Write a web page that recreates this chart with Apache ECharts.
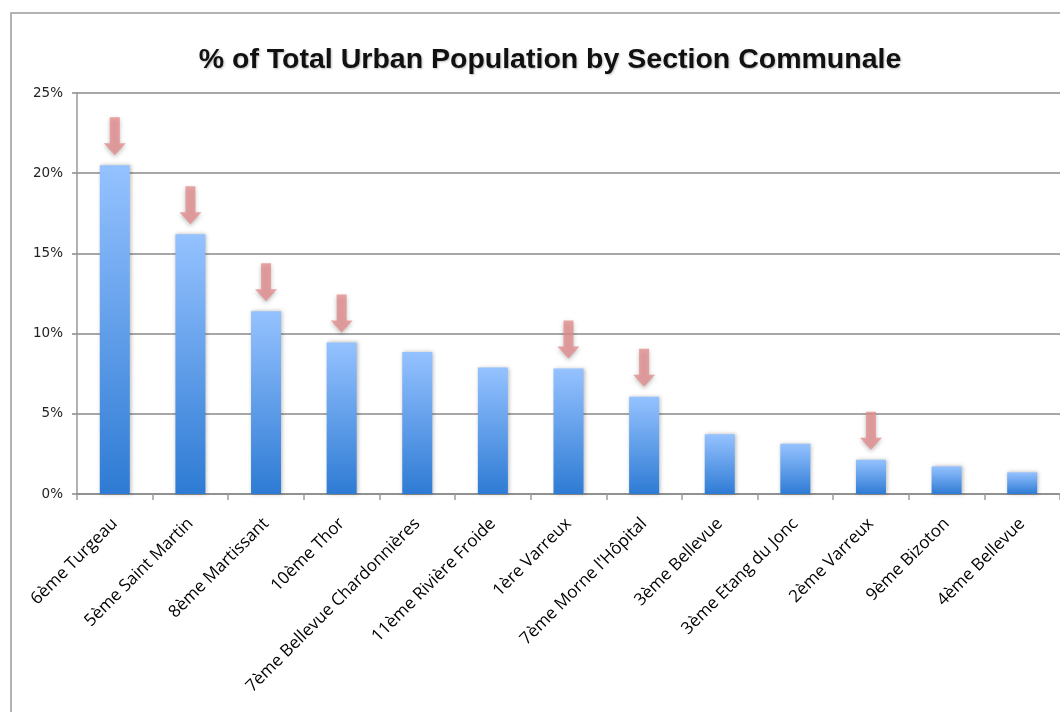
<!DOCTYPE html>
<html>
<head>
<meta charset="utf-8">
<title>% of Total Urban Population by Section Communale</title>
<script src="https://cdn.jsdelivr.net/npm/echarts@6/dist/echarts.min.js"></script>
<style>
  html, body { margin: 0; padding: 0; background: #fff; }
  #chart { width: 1060px; height: 712px; }
</style>
</head>
<body>
<div id="chart"></div>
<script>
// Sections communales, ordered by share of the urban population
const categories = [
  '6ème Turgeau',
  '5ème Saint Martin',
  '8ème Martissant',
  '10ème Thor',
  '7ème Bellevue Chardonnières',
  '11ème Rivière Froide',
  '1ère Varreux',
  "7ème Morne l'Hôpital",
  '3ème Bellevue',
  '3ème Etang du Jonc',
  '2ème Varreux',
  '9ème Bizoton',
  '4ème Bellevue'
];

// Share of total urban population (%)
const sharePct = [20.5, 16.2, 11.4, 9.45, 8.85, 7.88, 7.82, 6.07, 3.72, 3.13, 2.14, 1.72, 1.35];

// Sections highlighted with an arrow
const highlighted = [
  '6ème Turgeau',
  '5ème Saint Martin',
  '8ème Martissant',
  '10ème Thor',
  '1ère Varreux',
  "7ème Morne l'Hôpital",
  '2ème Varreux'
];

// Y axis ticks
const yTicks = [0, 5, 10, 15, 20, 25];

const arrowPoints = highlighted.map(name => {
  const i = categories.indexOf(name);
  return [i, sharePct[i]];
});

const chart = echarts.init(document.getElementById('chart'), null, { renderer: 'canvas' });

chart.setOption({
  backgroundColor: '#ffffff',
  animation: false,
  graphic: [{
    type: 'rect',
    shape: { x: 11, y: 13, width: 1100, height: 800 },
    style: { fill: 'none', stroke: '#9a9a9a', lineWidth: 1.5 },
    silent: true,
    z: -10
  }],
  title: {
    text: '% of Total Urban Population by Section Communale',
    left: 545,
    top: 41,
    textAlign: 'center',
    textStyle: {
      fontFamily: 'Liberation Sans, Arial, sans-serif',
      fontWeight: 'bold',
      fontSize: 28.5,
      color: '#111',
      textShadowColor: 'rgba(0,0,0,0.25)',
      textShadowBlur: 2,
      textShadowOffsetX: 1,
      textShadowOffsetY: 1
    }
  },
  grid: { left: 77, right: 0, top: 93, bottom: 218, containLabel: false },
  xAxis: {
    type: 'category',
    data: categories,
    axisLine: { lineStyle: { color: '#8a8a8a', width: 1.5 } },
    axisTick: { show: true, length: 6, lineStyle: { color: '#9a9a9a', width: 1.5 } },
    axisLabel: {
      rotate: 45,
      interval: 0,
      margin: 27,
      fontFamily: 'Open Sans, Noto Sans, sans-serif',
      fontSize: 17,
      color: '#000'
    }
  },
  yAxis: {
    type: 'value',
    min: yTicks[0],
    max: yTicks[yTicks.length - 1],
    interval: 5,
    axisLine: { show: true, lineStyle: { color: '#9a9a9a', width: 1.5 } },
    axisTick: { show: true, length: 5, lineStyle: { color: '#8a8a8a', width: 1.5 } },
    splitLine: { lineStyle: { color: '#8a8a8a', width: 1.5 } },
    axisLabel: {
      formatter: v => v + '%',
      margin: 14,
      fontFamily: 'DejaVu Sans, Verdana, sans-serif',
      fontSize: 13.5,
      color: '#222'
    }
  },
  series: [
    {
      type: 'bar',
      data: sharePct,
      barWidth: 30,
      itemStyle: {
        color: new echarts.graphic.LinearGradient(0, 0, 0, 1, [
          { offset: 0, color: '#95c2ff' },
          { offset: 1, color: '#2e7bd4' }
        ]),
        shadowColor: 'rgba(0,0,0,0.28)',
        shadowBlur: 4,
        shadowOffsetX: 1,
        shadowOffsetY: 0
      },
      z: 2
    },
    {
      type: 'scatter',
      data: arrowPoints,
      symbol: 'path://M6,0 L16,0 L16,26 L22,26 L11,38 L0,26 L6,26 Z',
      symbolSize: [22, 38],
      symbolOffset: [0, -29],
      itemStyle: {
        color: '#e48f8f',
        shadowColor: 'rgba(0,0,0,0.3)',
        shadowBlur: 4,
        shadowOffsetY: 2
      },
      z: 3
    }
  ]
});
</script>
</body>
</html>
